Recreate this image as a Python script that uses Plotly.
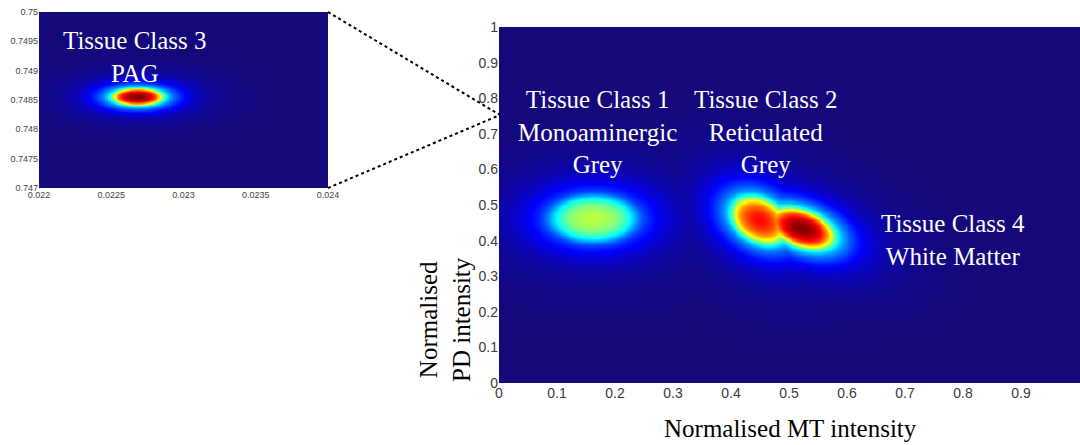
import numpy as np
import plotly.graph_objects as go

# ---- data (tissue-class clusters) ----
class_labels = ["Tissue Class 1<br>Monoaminergic<br>Grey",
                "Tissue Class 2<br>Reticulated<br>Grey",
                "Tissue Class 4<br>White Matter"]
label_mt = [0.169, 0.461, 0.783]
label_pd = [0.706, 0.706, 0.403]

mt_center = [0.162, 0.449, 0.521]
pd_center = [0.463, 0.458, 0.435]
mt_sigma = [0.0654, 0.0440, 0.0494]
pd_sigma = [0.0580, 0.0600, 0.0511]
corr = [0.0, -0.30, -0.40]
peak = [0.56, 0.87, 1.00]

pag_label = "Tissue Class 3<br>PAG"
pag_label_mt = 0.022664
pag_label_pd = 0.74923
pag_mt = [0.02268]
pag_pd = [0.74856]
pag_mt_sigma = [0.000155]
pag_pd_sigma = [0.000130]
pag_corr = [0.0]
pag_peak = [1.0]

main_ticks = [0, 0.1, 0.2, 0.3, 0.4, 0.5, 0.6, 0.7, 0.8, 0.9, 1]
main_ticktext = ["0", "0.1", "0.2", "0.3", "0.4", "0.5", "0.6", "0.7", "0.8", "0.9", "1"]
inset_xticks = [0.022, 0.0225, 0.023, 0.0235, 0.024]
inset_xticktext = ["0.022", "0.0225", "0.023", "0.0235", "0.024"]
inset_yticks = [0.747, 0.7475, 0.748, 0.7485, 0.749, 0.7495, 0.75]
inset_yticktext = ["0.747", "0.7475", "0.748", "0.7485", "0.749", "0.7495", "0.75"]

# cluster profile shape: flat-topped core + gaussian body + faint wide halo
CORE_WEIGHT = 0.33
BODY_WEIGHT = 0.55
HALO_WEIGHT = 0.12
CORE_POWER = 6
HALO_SCALE = 2.0


def mixture(xs, ys, cx, cy, sx, sy, rh, amp):
    X, Y = np.meshgrid(xs, ys)
    Z = np.zeros_like(X)
    for a, b, s1, s2, r, A in zip(cx, cy, sx, sy, rh, amp):
        dx = (X - a) / s1
        dy = (Y - b) / s2
        q = (dx * dx - 2 * r * dx * dy + dy * dy) / (1 - r * r)
        prof = (CORE_WEIGHT * np.exp(-0.5 * q ** (CORE_POWER / 2))
                + BODY_WEIGHT * np.exp(-0.5 * q)
                + HALO_WEIGHT * np.exp(-0.5 * q / HALO_SCALE ** 2))
        Z = np.maximum(Z, A * prof)
    return np.round(Z, 3)


jet = [[0.0, "rgb(20,8,122)"], [0.125, "rgb(0,0,255)"], [0.375, "rgb(0,255,255)"],
       [0.625, "rgb(255,255,0)"], [0.875, "rgb(255,0,0)"], [1.0, "rgb(128,0,0)"]]

xs = np.linspace(0, 1.002, 302)
ys = np.linspace(0, 1, 301)
Z = mixture(xs, ys, mt_center, pd_center, mt_sigma, pd_sigma, corr, peak)

ixs = np.linspace(0.022, 0.024, 201)
iys = np.linspace(0.747, 0.75, 151)
IZ = mixture(ixs, iys, pag_mt, pag_pd, pag_mt_sigma, pag_pd_sigma, pag_corr, pag_peak)

fig = go.Figure()
fig.add_trace(go.Heatmap(x=xs, y=ys, z=Z, colorscale=jet, zmin=0, zmax=1,
                         showscale=False, zsmooth="best", hoverinfo="skip",
                         xaxis="x", yaxis="y"))
fig.add_trace(go.Heatmap(x=ixs, y=iys, z=IZ, colorscale=jet, zmin=0, zmax=1,
                         showscale=False, zsmooth="best", hoverinfo="skip",
                         xaxis="x2", yaxis="y2"))

tickfont = dict(family="Liberation Sans, Arial, sans-serif", size=14, color="#3a3a3a")
itickfont = dict(family="Liberation Sans, Arial, sans-serif", size=9, color="#444")
serif = "Liberation Serif, Times New Roman, serif"

common = dict(showgrid=False, zeroline=False, ticks="", showline=False, automargin=False)
fig.update_layout(
    width=1080, height=445,
    margin=dict(l=0, r=0, t=0, b=0, pad=0),
    paper_bgcolor="white", plot_bgcolor="white",
    showlegend=False,
    xaxis=dict(domain=[499 / 1080, 1.0], range=[0, 581 / 580], tickvals=main_ticks,
               ticktext=main_ticktext, tickfont=tickfont, **common),
    yaxis=dict(domain=[1 - 383 / 445, 1 - 27 / 445], range=[0, 1], tickvals=main_ticks,
               ticktext=main_ticktext, tickfont=tickfont, **common),
    xaxis2=dict(domain=[39 / 1080, 328 / 1080], range=[0.022, 0.024], anchor="y2",
                tickvals=inset_xticks, ticktext=inset_xticktext, tickfont=itickfont,
                **common),
    yaxis2=dict(domain=[1 - 188 / 445, 1 - 12 / 445], range=[0.747, 0.75], anchor="x2",
                tickvals=inset_yticks, ticktext=inset_yticktext, tickfont=itickfont,
                **common),
)

for t, x, y in zip(class_labels, label_mt, label_pd):
    fig.add_annotation(x=x, y=y, xref="x", yref="y", text=t, showarrow=False,
                       font=dict(family=serif, size=25, color="white"),
                       xanchor="center", yanchor="middle", align="center")

fig.add_annotation(x=pag_label_mt, y=pag_label_pd, xref="x2", yref="y2", text=pag_label,
                   showarrow=False, font=dict(family=serif, size=25, color="white"),
                   xanchor="center", yanchor="middle", align="center")

fig.add_annotation(x=790 / 1080, y=1 - 428 / 445, xref="paper", yref="paper",
                   text="Normalised MT intensity", showarrow=False,
                   font=dict(family=serif, size=25, color="black"),
                   xanchor="center", yanchor="middle")
fig.add_annotation(x=445 / 1080, y=1 - 320 / 445, xref="paper", yref="paper",
                   text="Normalised<br>PD intensity", showarrow=False, textangle=-90,
                   font=dict(family=serif, size=25, color="black"),
                   xanchor="center", yanchor="middle", align="center")

# dotted zoom connector lines from inset corners to main axis
for yp in [12, 188]:
    fig.add_shape(type="line", xref="paper", yref="paper",
                  x0=328 / 1080, y0=1 - yp / 445, x1=500 / 1080, y1=1 - 115 / 445,
                  line=dict(color="black", width=2, dash="dot"))

fig.write_html("out.html", config={"displayModeBar": False},
               post_script="document.body.style.margin='0px';"
                           "document.body.style.overflow='hidden';")
